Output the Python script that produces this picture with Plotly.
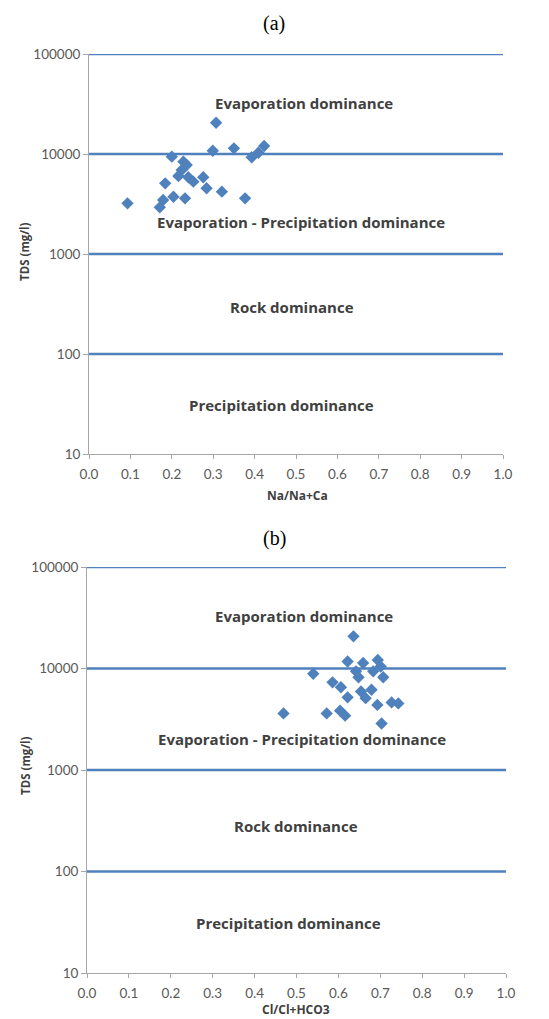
import plotly.graph_objects as go

# ---------- data ----------
# Panel (a): Na/(Na+Ca) vs TDS
na_ratio = [0.307, 0.200, 0.299, 0.350, 0.393, 0.409, 0.423, 0.228, 0.236, 0.224,
            0.216, 0.240, 0.252, 0.276, 0.184, 0.284, 0.321, 0.204, 0.232, 0.179,
            0.171, 0.377, 0.093]
tds_a = [20560, 9400, 10790, 11400, 9270, 10300, 12020, 8380, 7760, 6920,
         6030, 5850, 5290, 5850, 5090, 4540, 4200, 3740, 3600, 3470,
         2930, 3600, 3210]

# Panel (b): Cl/(Cl+HCO3) vs TDS
cl_ratio = [0.636, 0.622, 0.659, 0.694, 0.540, 0.642, 0.683, 0.701, 0.648, 0.707,
            0.586, 0.606, 0.654, 0.679, 0.665, 0.622, 0.693, 0.727, 0.743, 0.469,
            0.572, 0.604, 0.616, 0.703]
tds_b = [20750, 11720, 11330, 12140, 8870, 9380, 9380, 10470, 8200, 8200,
         7310, 6530, 5940, 6170, 5100, 5200, 4380, 4630, 4530, 3610,
         3610, 3840, 3430, 2870]

boundaries = [100, 1000, 10000, 100000]
x_span = [0, 1]
y_tickvals = [10, 100, 1000, 10000, 100000]
y_ticktext = ["10", "100", "1000", "10000", "100000"]
zone_labels = ["Evaporation dominance", "Evaporation - Precipitation dominance",
               "Rock dominance", "Precipitation dominance"]

BLUE = "#4F81BD"
TXT = "#595959"
FONT = "Lato"
BFONT = "Open Sans"
OFF = 8                      # page body margin
W, H = 549 - OFF, 1019 - OFF  # figure size


def px(rx):
    return (rx - OFF) / W


def py(ry):
    return 1 - (ry - OFF) / H


fig = go.Figure()
for xr, yr in (("x", "y"), ("x2", "y2")):
    for bval in boundaries:
        fig.add_trace(go.Scatter(x=x_span, y=[bval, bval], mode="lines", xaxis=xr, yaxis=yr,
                                 line=dict(color=BLUE, width=2.5), showlegend=False,
                                 hoverinfo="skip", cliponaxis=False))
fig.add_trace(go.Scatter(x=na_ratio, y=tds_a, mode="markers", xaxis="x", yaxis="y",
                         marker=dict(symbol="diamond", size=9.5, color=BLUE), showlegend=False))
fig.add_trace(go.Scatter(x=cl_ratio, y=tds_b, mode="markers", xaxis="x2", yaxis="y2",
                         marker=dict(symbol="diamond", size=9.5, color=BLUE), showlegend=False))

# panel geometry in reference pixels: (left, right, top, bottom)
panels = {"a": (89, 503, 54, 454), "b": (87, 506, 567, 973)}


def xdom(p):
    l, r, t, b = panels[p]
    return [px(l), px(r)]


def ydom(p):
    l, r, t, b = panels[p]
    return [py(b), py(t)]


xcommon = dict(range=[0, 1], dtick=0.1, tick0=0, tickformat=".1f", showgrid=False,
               zeroline=False, showline=True, linecolor="#a6a6a6", linewidth=1,
               ticks="outside", ticklen=4, tickcolor="#a6a6a6", automargin=False,
               tickfont=dict(family=FONT, size=13.5, color=TXT), ticklabelstandoff=4)
ycommon = dict(type="log", range=[1, 5], tickvals=y_tickvals, ticktext=y_ticktext,
               showgrid=False, zeroline=False, showline=True, linecolor="#a6a6a6",
               linewidth=1, ticks="outside", ticklen=5, tickcolor="#a6a6a6", automargin=False,
               tickfont=dict(family=FONT, size=13.5, color=TXT))

fig.update_layout(
    template="none",
    width=W, height=H, margin=dict(l=0, r=0, t=0, b=0, pad=0, autoexpand=False),
    paper_bgcolor="white", plot_bgcolor="white",
    xaxis=dict(domain=xdom("a"), anchor="y", **xcommon),
    yaxis=dict(domain=ydom("a"), anchor="x", **ycommon),
    xaxis2=dict(domain=xdom("b"), anchor="y2", **xcommon),
    yaxis2=dict(domain=ydom("b"), anchor="x2", **ycommon),
)

ann = []
# zone labels: (x, log10 y) per panel
zone_pos_a = [(0.52, 4.51), (0.512, 3.32), (0.49, 2.47), (0.466, 1.49)]
zone_pos_b = [(0.518, 4.515), (0.513, 3.307), (0.499, 2.446), (0.48, 1.495)]
for (xr, yr, pos) in (("x", "y", zone_pos_a), ("x2", "y2", zone_pos_b)):
    for label, (xx, yy) in zip(zone_labels, pos):
        ann.append(dict(text=f"<b>{label}</b>", x=xx, y=yy, xref=xr, yref=yr,
                        xanchor="center", yanchor="middle",
                        showarrow=False, font=dict(family=BFONT, size=15, color="#404040")))


def label(text, rx, ry, font, angle=0):
    return dict(text=text, x=px(rx), y=py(ry), xref="paper", yref="paper",
                xanchor="center", yanchor="middle", textangle=angle,
                showarrow=False, font=font)


serif = dict(family="Liberation Serif", size=20, color="black")
ann.append(label("(a)", 274, 24, serif))
ann.append(label("(b)", 274, 538, serif))
ttl = dict(family=BFONT, size=11.5, color="#404040")
ann.append(label("<b>TDS (mg/l)</b>", 25, 252, ttl, -90))
ann.append(label("<b>TDS (mg/l)</b>", 25, 766, ttl, -90))
xt = dict(family=BFONT, size=12, color="#404040")
ann.append(label("<b>Na/Na+Ca</b>", 297, 496, xt))
ann.append(label("<b>Cl/Cl+HCO3</b>", 296, 1009, xt))
fig.update_layout(annotations=ann)

fig.write_html("out.html")
